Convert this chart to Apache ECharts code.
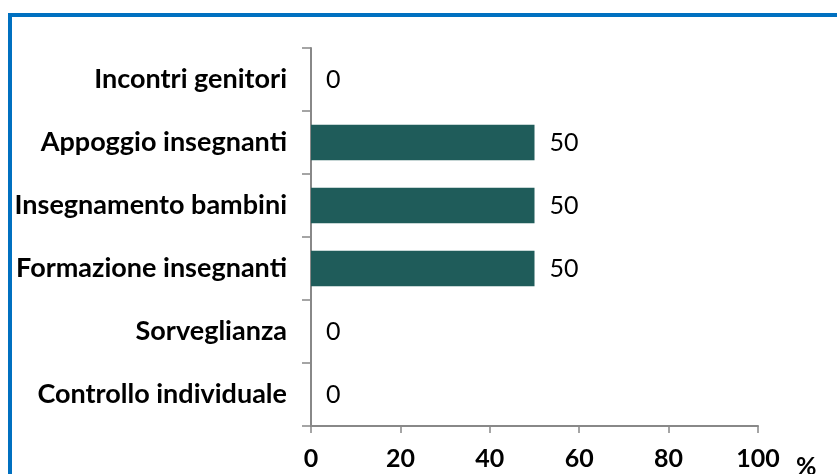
<!DOCTYPE html>
<html>
<head>
<meta charset="utf-8">
<script src="https://cdn.jsdelivr.net/npm/echarts@6/dist/echarts.min.js"></script>
<style>
  html, body { margin: 0; padding: 0; background: #fff; }
  #wrap { position: relative; width: 837px; height: 474px; overflow: hidden; }
  #frame {
    position: absolute; left: 8px; top: 13px; width: 900px; height: 520px;
    border-left: 4px solid #0070C0; border-top: 4px solid #0070C0;
  }
  #chart { position: absolute; left: 0; top: 0; width: 837px; height: 474px; }
</style>
</head>
<body>
<div id="wrap">
  <div id="frame"></div>
  <div id="chart"></div>
</div>
<script>
// categories listed bottom to top (category axis runs upward)
const categories = [
  'Controllo individuale',
  'Sorveglianza',
  'Formazione insegnanti',
  'Insegnamento bambini',
  'Appoggio insegnanti',
  'Incontri genitori'
]
const values = [0, 0, 50, 50, 50, 0]
const xTicks = [0, 20, 40, 60, 80, 100]

const chart = echarts.init(document.getElementById('chart'))
const font = 'Lato'

chart.setOption({
  animation: false,
  grid: { left: 311, right: 79, top: 48, bottom: 48, containLabel: false, outerBoundsMode: 'none' },
  xAxis: {
    type: 'value',
    min: xTicks[0],
    max: xTicks[xTicks.length - 1],
    interval: xTicks[1] - xTicks[0],
    name: '%',
    nameLocation: 'end',
    nameGap: 38,
    nameTextStyle: { fontFamily: font, fontWeight: 'bold', fontSize: 25, color: '#000', verticalAlign: 'top', padding: [28, 0, 0, 0] },
    axisLine: { show: true, lineStyle: { color: '#888', width: 2 } },
    axisTick: { show: true, length: 7, lineStyle: { color: '#888', width: 1.5 } },
    splitLine: { show: false },
    axisLabel: { fontFamily: font, fontWeight: 'bold', fontSize: 25, color: '#000', margin: 20 }
  },
  yAxis: {
    type: 'category',
    data: categories,
    axisLine: { show: true, lineStyle: { color: '#888', width: 2 } },
    axisTick: { show: true, length: 9, lineStyle: { color: '#888', width: 1.5 } },
    axisLabel: { fontFamily: font, fontWeight: 'bold', fontSize: 27, color: '#000', margin: 24 }
  },
  series: [{
    type: 'bar',
    data: values,
    barCategoryGap: '44%',
    itemStyle: { color: '#1F5C5A' },
    label: {
      show: true,
      position: 'right',
      distance: 15,
      fontFamily: font,
      fontSize: 25,
      color: '#000'
    }
  }]
})
</script>
</body>
</html>
